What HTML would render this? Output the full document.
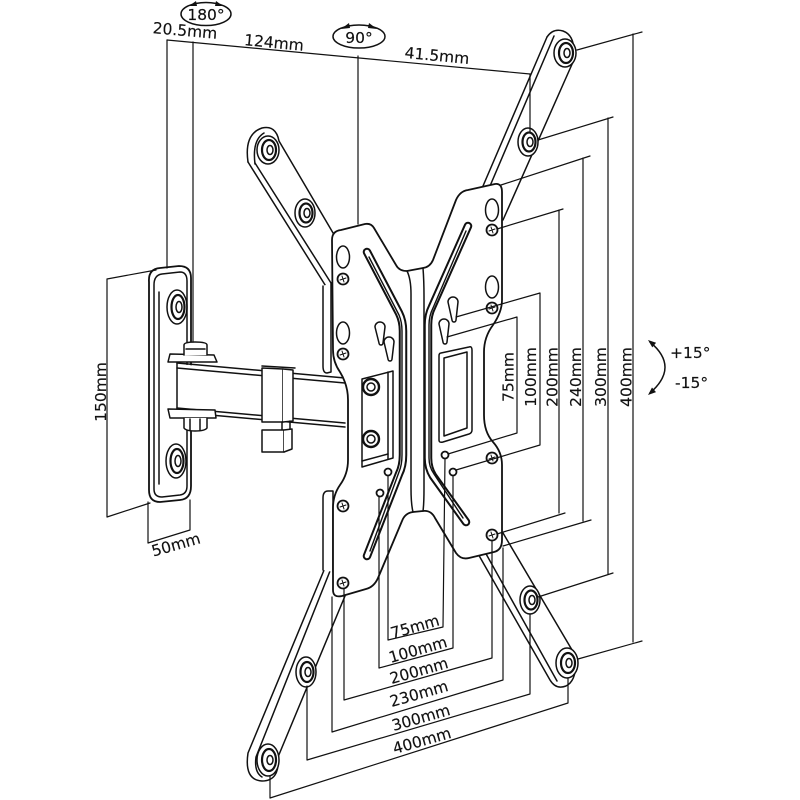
<!DOCTYPE html>
<html><head><meta charset="utf-8">
<style>
html,body{margin:0;padding:0;background:#fff;}
svg{display:block}
text{font-family:"DejaVu Sans","Liberation Sans",sans-serif;font-size:15.5px;fill:#111;stroke:#111;stroke-width:0.15}
</style></head><body>
<svg width="800" height="800" viewBox="0 0 800 800" xmlns="http://www.w3.org/2000/svg">
<rect width="800" height="800" fill="#fff"/>
<g fill="none" stroke="#111" stroke-width="1.5" stroke-linejoin="round" stroke-linecap="round">

<!-- upper-left arm -->
<path d="M248,162 Q244,134 262,128 Q276,125 279,141 L340,240 L340,300 L326,292 Z" fill="#fff" stroke="none"/>
<path d="M248,162 Q244,134 262,128 Q276,125 279,141 L336,238"/>
<path d="M255,164 Q252,140 264,133"/>
<path d="M248,162 L327,288"/>
<path d="M255,163 L331,283"/>
<path d="M323,286 L323,366 Q323,373 327,373 L331,372 L331,283" fill="#fff"/>
<ellipse cx="268" cy="150" rx="11" ry="14"/>
<ellipse cx="269" cy="150" rx="7" ry="10" stroke-width="2.2"/>
<ellipse cx="270" cy="150" rx="3" ry="4.5"/>
<ellipse cx="305" cy="213" rx="10" ry="14" fill="#fff"/>
<ellipse cx="306" cy="213" rx="6.5" ry="9.5" stroke-width="2.2"/>
<ellipse cx="307" cy="213" rx="3" ry="4.5"/>

<!-- upper-right arm -->
<path d="M547,37 Q553,28 563,31 Q577,36 573,62 L503,220 L483,186 Z" fill="#fff" stroke="none"/>
<path d="M547,37 Q553,28 563,31 Q577,36 573,62 L503,220"/>
<path d="M547,37 L483,186"/>
<path d="M554,36 L490,186"/>
<ellipse cx="565" cy="53" rx="11" ry="14" fill="#fff"/>
<ellipse cx="566" cy="53" rx="7" ry="10" stroke-width="2.2"/>
<ellipse cx="567" cy="53" rx="3" ry="4.5"/>
<ellipse cx="528" cy="142" rx="10" ry="14" fill="#fff"/>
<ellipse cx="529" cy="142" rx="6.5" ry="9.5" stroke-width="2.2"/>
<ellipse cx="530" cy="142" rx="3" ry="4.5"/>

<!-- lower-right arm -->
<path d="M477,555 L550,680 Q556,690 566,686 Q578,680 575,655 L503,533 Z" fill="#fff" stroke="none"/>
<path d="M477,552 L550,680 Q556,690 566,686 Q578,680 575,655 L503,533"/>
<path d="M485,552 L557,681"/>
<ellipse cx="567" cy="663" rx="11" ry="15" fill="#fff"/>
<ellipse cx="568" cy="663" rx="7" ry="10" stroke-width="2.2"/>
<ellipse cx="569" cy="663" rx="3" ry="4.5"/>
<ellipse cx="530" cy="600" rx="10" ry="14" fill="#fff"/>
<ellipse cx="531" cy="600" rx="6.5" ry="9.5" stroke-width="2.2"/>
<ellipse cx="532" cy="600" rx="3" ry="4.5"/>

<!-- lower-left arm -->
<path d="M248,753 Q244,780 262,781 Q280,781 278,757 L345,597 L327,563 Z" fill="#fff" stroke="none"/>
<path d="M327,563 L248,753 Q244,780 262,781 Q280,781 278,757 L345,596"/>
<path d="M332,566 L256,757 Q254,772 262,777"/>
<path d="M323,570 L323,498 Q323,491 328,491 L333,491 L333,572" fill="#fff"/>
<ellipse cx="268" cy="760" rx="11" ry="16" fill="#fff"/>
<ellipse cx="269" cy="760" rx="7" ry="11" stroke-width="2.2"/>
<ellipse cx="270" cy="760" rx="3" ry="4.5"/>
<ellipse cx="306" cy="672" rx="10" ry="15" fill="#fff"/>
<ellipse cx="307" cy="672" rx="6.5" ry="10" stroke-width="2.2"/>
<ellipse cx="308" cy="672" rx="3" ry="4.5"/>

<!-- wall plate -->
<path d="M149,282 Q148,269 160,268 L179,266 Q191,266 191,278 L191,486 Q191,499 180,500 L160,502 Q149,502 149,490 Z" fill="#fff" stroke-width="1.8"/>
<path d="M154,285 Q154,275 162,274 L180,272 Q187,272 187,281 L187,486 Q187,494 180,495 L162,497 Q154,497 154,489 Z"/>
<path d="M159,292 L159,484"/>
<ellipse cx="177" cy="307" rx="10" ry="17"/>
<ellipse cx="178" cy="307" rx="6.5" ry="12" stroke-width="2.2"/>
<ellipse cx="179" cy="307" rx="3" ry="5.5"/>
<ellipse cx="176" cy="461" rx="10" ry="17"/>
<ellipse cx="177" cy="461" rx="6.5" ry="12" stroke-width="2.2"/>
<ellipse cx="178" cy="461" rx="3" ry="5.5"/>

<!-- horizontal arm -->
<path d="M177,364 L345,379 L345,424 L177,409 Z" fill="#fff" stroke="none"/>
<path d="M177,363 L345,378"/>
<path d="M177,368 L345,383"/>
<path d="M177,408 L345,423"/>
<path d="M177,412 L345,427"/>
<path d="M177,363 L177,412"/>
<path d="M170,354 L214,355 L217,362 L168,362 Z" fill="#fff"/>
<path d="M184,355 L184,345 Q184,342 195,342 Q207,342 207,345 L207,355" fill="#fff"/>
<path d="M186,349 L205,349"/>
<path d="M168,409 L215,410 L216,418 L170,418 Z" fill="#fff"/>
<path d="M184,418 L184,428 Q186,431 195,431 Q205,431 207,428 L207,418" fill="#fff"/>
<path d="M190,419 L190,430 M200,419 L200,430"/>
<path d="M262,368 L283,369 L283,422 L262,422 Z" fill="#fff"/>
<path d="M283,369 L293,370 L293,421 L283,422" fill="#fff"/>
<path d="M262,366 L295,368"/>
<path d="M282,422 L282,430 M290,421 L290,429"/>
<path d="M262,430 L284,430 L284,452 L262,452 Z" fill="#fff"/>
<path d="M284,430 L292,429 L292,449 L284,452" fill="#fff"/>

<!-- VESA X plate -->
<path d="M332,240 Q332,231 341,230 L365,224 Q371,223 374,228 L396,265 Q399,271 407,271 L423,268 Q430,267 433,260 L456,200 Q460,191 468,190 L495,184 Q502,183 502,192 L502,300 Q502,312 493,325 Q484,337 484,352 L484,415 Q484,432 493,442 Q502,452 502,465 L502,540 Q502,550 494,552 L469,558 Q461,560 456,553 L435,518 Q431,510 423,511 L413,512 Q405,513 402,521 L378,578 Q374,587 366,589 L342,596 Q333,598 333,590 L333,508 Q333,495 340,485 Q348,474 348,460 L348,400 Q348,385 340,372 Q333,362 333,350 Z" fill="#fff" stroke-width="1.8"/>
<path d="M407,271 Q411,279 411,294 L411,488 Q411,504 413,512"/>
<path d="M423,268 Q424,281 424,296 L424,488 Q424,504 423,511"/>
<path d="M367,252 L399,313 Q403,321 403,331 L403,455 Q403,466 399,474 L367,556" stroke-width="8.5"/>
<path d="M367,252 L399,313 Q403,321 403,331 L403,455 Q403,466 399,474 L367,556" stroke="#fff" stroke-width="4.5"/>
<path d="M369,257 L399,315 Q402,322 402,331 L402,455 Q402,465 399,472 L370,551" stroke-width="1.4"/>
<path d="M468,226 L432,307 Q428,315 428,325 L428,458 Q428,468 433,476 L466,522" stroke-width="8.5"/>
<path d="M468,226 L432,307 Q428,315 428,325 L428,458 Q428,468 433,476 L466,522" stroke="#fff" stroke-width="4.5"/>
<path d="M466,231 L433,308 Q429,316 429,325 L429,458 Q429,467 434,474 L463,518" stroke-width="1.4"/>

<ellipse cx="343" cy="257" rx="6.5" ry="11"/>
<ellipse cx="343" cy="333" rx="6.5" ry="11"/>
<ellipse cx="492" cy="210" rx="6.5" ry="11"/>
<ellipse cx="492" cy="287" rx="6.5" ry="11"/>
<g fill="#fff" stroke-width="1.8">
<circle cx="343" cy="279" r="5.5"/><circle cx="343" cy="354" r="5.5"/>
<circle cx="492" cy="230" r="5.5"/><circle cx="492" cy="308" r="5.5"/>
<circle cx="492" cy="458" r="5.5"/><circle cx="492" cy="535" r="5.5"/>
<circle cx="343" cy="506" r="5.5"/><circle cx="343" cy="583" r="5.5"/>
</g>
<path d="M340,280 L346,278 M342,276 L344,282 M340,355 L346,353 M342,351 L344,357 M489,231 L495,229 M491,227 L493,233 M489,309 L495,307 M491,305 L493,311 M489,459 L495,457 M491,455 L493,461 M489,536 L495,534 M491,532 L493,538 M340,507 L346,505 M342,503 L344,509 M340,584 L346,582 M342,580 L344,586" stroke-width="1"/>
<path d="M375,327 A5,5 0 1 1 385,327 L383,343 A2,2 0 0 1 379,343 Z"/>
<path d="M384,342 A5,5 0 1 1 394,342 L392,359 A2,2 0 0 1 388,359 Z"/>
<path d="M448,302 A5,5 0 1 1 458,302 L456,320 A2,2 0 0 1 452,320 Z"/>
<path d="M439,324 A5,5 0 1 1 449,324 L447,342 A2,2 0 0 1 443,342 Z"/>
<circle cx="388" cy="472" r="3.5" stroke-width="1.8"/>
<circle cx="380" cy="493" r="3.5" stroke-width="1.8"/>
<circle cx="445" cy="455" r="3.5" stroke-width="1.8"/>
<circle cx="453" cy="472" r="3.5" stroke-width="1.8"/>
<path d="M362,379 L393,371 L393,458 L362,467 Z"/>
<path d="M388,372 L388,459"/>
<path d="M362,461 L388,454"/>
<circle cx="371" cy="387" r="8" stroke-width="2.4"/>
<circle cx="371" cy="387" r="4"/>
<circle cx="371" cy="439" r="8" stroke-width="2.4"/>
<circle cx="371" cy="439" r="4"/>
<path d="M441,353 L469,347 Q472,346 472,350 L472,430 Q472,433 469,434 L443,442 Q439,443 439,440 L439,356 Q439,353 441,353 Z"/>
<path d="M444,358 L467,352 L467,428 L444,436 Z"/>

<!-- dimensions -->
<g stroke-width="1.2">
<path d="M167,40 L530,74"/>
<path d="M167,40 L167,268"/>
<path d="M193,42 L193,342"/>
<path d="M358,56 L358,224"/>
<path d="M530,74 L530,132"/>
<path d="M107,279 L107,517 M107,279 L156,270 M107,517 L150,503"/>
<path d="M148,502 L148,543 L190,530 L190,500"/>
<path d="M447,337 L517,317 L517,433 L448,454"/>
<path d="M456,317 L540,293 L540,445 L456,470"/>
<path d="M497,229 L563,209 M559,210 L559,513 M497,534 L565,513"/>
<path d="M501,185 L590,156 M583,158 L583,521 M503,546 L591,520"/>
<path d="M538,140 L613,117 M608,118 L608,574 M538,597 L613,573"/>
<path d="M577,50 L642,32 M633,34 L633,642 M578,659 L642,641"/>
<path d="M388,476 L388,640 L443,627 L445,459"/>
<path d="M379,497 L379,668 L453,648 L453,476"/>
<path d="M344,589 L344,700 L492,658 L492,541"/>
<path d="M332,597 L332,732 L503,680 L503,548"/>
<path d="M307,686 L307,760 L530,694 L530,614"/>
<path d="M270,776 L270,798 L568,703 L568,678"/>
</g>
<ellipse cx="206" cy="14" rx="25" ry="11.5"/>
<ellipse cx="359" cy="36.5" rx="26" ry="11.5"/>
<path d="M650,342 Q680,367 650,393"/>
</g>
<g fill="#111" stroke="none">
<path d="M648,340 L656.1,342.8 L652.3,347.4 Z"/>
<path d="M648,395 L656,392.1 L652,387.5 Z"/>
<path d="M341,29 L349,23 L350,28 Z"/>
<path d="M377,29 L369,23 L368,28 Z"/>
<path d="M189,6 L196,1 L197,6 Z"/>
<path d="M223,6 L216,1 L215,6 Z"/>
</g>

<text x="206" y="20" text-anchor="middle" font-size="16">180°</text>
<text x="359" y="43" text-anchor="middle" font-size="16">90°</text>
<text transform="translate(185,31) rotate(5)" x="0" y="5" text-anchor="middle">20.5mm</text>
<text transform="translate(274,43) rotate(5.5)" x="0" y="5" text-anchor="middle">124mm</text>
<text transform="translate(437,56) rotate(5.5)" x="0" y="5" text-anchor="middle">41.5mm</text>
<text transform="translate(106,392) rotate(-90)" x="0" y="0" text-anchor="middle">150mm</text>
<text transform="translate(176,545) rotate(-16)" x="0" y="5" text-anchor="middle">50mm</text>

<text transform="translate(513.5,377) rotate(-90)" text-anchor="middle">75mm</text>
<text transform="translate(536,377) rotate(-90)" text-anchor="middle">100mm</text>
<text transform="translate(557.5,377) rotate(-90)" text-anchor="middle">200mm</text>
<text transform="translate(581,377) rotate(-90)" text-anchor="middle">240mm</text>
<text transform="translate(606,377) rotate(-90)" text-anchor="middle">300mm</text>
<text transform="translate(631.5,377) rotate(-90)" text-anchor="middle">400mm</text>

<text x="670" y="358" font-size="14.5">+15°</text>
<text x="675" y="388" font-size="14.5">-15°</text>

<text transform="translate(415,627) rotate(-16)" x="0" y="5" text-anchor="middle">75mm</text>
<text transform="translate(418,650) rotate(-16)" x="0" y="5" text-anchor="middle">100mm</text>
<text transform="translate(419,671) rotate(-16)" x="0" y="5" text-anchor="middle">200mm</text>
<text transform="translate(419,694) rotate(-16)" x="0" y="5" text-anchor="middle">230mm</text>
<text transform="translate(421,718) rotate(-16)" x="0" y="5" text-anchor="middle">300mm</text>
<text transform="translate(422,741) rotate(-16)" x="0" y="5" text-anchor="middle">400mm</text>
</svg>
</body></html>
